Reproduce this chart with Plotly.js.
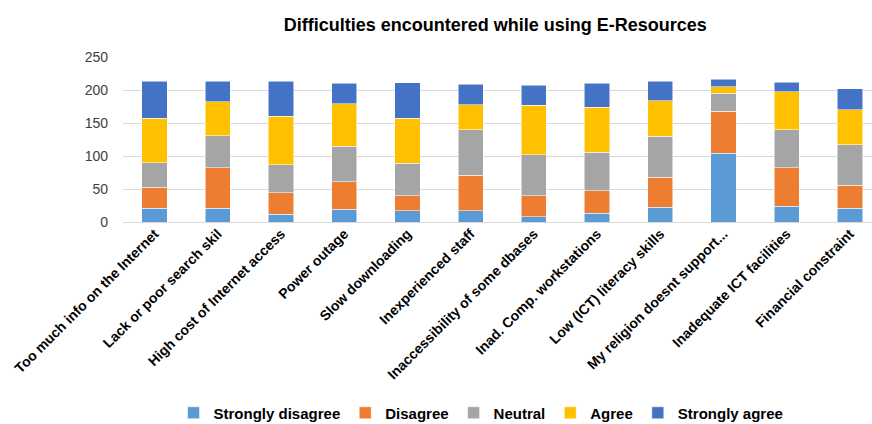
<!DOCTYPE html>
<html><head><meta charset="utf-8">
<script src="https://cdn.plot.ly/plotly-3.0.1.min.js"></script>
<style>html,body{margin:0;padding:0;background:#fff}#chart{width:872px;height:424px}</style>
</head><body><div id="chart"></div>
<script>
const categories = ["Too much info on the Internet","Lack or poor search skil","High cost of Internet access","Power outage","Slow downloading","Inexperienced staff","Inaccessibility of some dbases","Inad. Comp. workstations","Low (ICT) literacy skills","My religion doesnt support...","Inadequate ICT facilities","Financial constraint"];
const stronglyDisagree = [21,21,12,19,17,17,8,13,22,104,24,21];
const disagree         = [32,61,32,42,23,54,32,34,46,64,58,35];
const neutral          = [37,49,43,54,49,69,62,59,62,27,58,61];
const agree            = [67,51,73,64,68,38,75,68,54,10,57,53];
const stronglyAgree    = [56,31,53,31,54,31,30,36,29,11,15,32];
const seriesNames = ["Strongly disagree","Disagree","Neutral","Agree","Strongly agree"];
const seriesColors = ["#5B9BD5","#ED7D31","#A5A5A5","#FFC000","#4472C4"];
const seriesData = [stronglyDisagree, disagree, neutral, agree, stronglyAgree];

const traces = seriesData.map((vals, i) => ({
  type: 'bar', name: seriesNames[i], x: categories, y: vals,
  marker: {color: seriesColors[i], line: {color: 'rgba(255,255,255,0.7)', width: 0.75}},
  hoverinfo: 'x+y+name'
}));

const layout = {
  width: 872, height: 424, barmode: 'stack', bargap: 0.6,
  paper_bgcolor: '#fff', plot_bgcolor: '#fff',
  margin: {l: 123, r: 0, t: 57, b: 202},
  font: {family: 'Liberation Sans, Arial, sans-serif', color: '#000'},
  title: {text: 'Difficulties encountered while using E-Resources', x: 0.568, xref: 'container', xanchor: 'center', y: 1 - 25/424, yref: 'container', yanchor: 'middle',
          font: {size: 18, family: 'Liberation Sans, Arial, sans-serif', weight: 'bold', color: '#000'}},
  xaxis: {range: [-0.5, 11.35], tickangle: -45, showgrid: false, showline: false, ticks: '', automargin: false,
          tickfont: {size: 14, weight: 'bold', color: '#000'}},
  yaxis: {range: [0, 250], dtick: 50, showgrid: true, gridcolor: '#D9D9D9', gridwidth: 1, zeroline: true, zerolinecolor: '#D9D9D9', automargin: false,
          tickfont: {size: 14, color: '#404040'}, ticks: '', ticklabelstandoff: 14},
  legend: {orientation: 'h', x: 0.478, xanchor: 'center', y: 1 - 413/424, yanchor: 'middle', yref: 'container',
           font: {size: 15, weight: 'bold', color: '#000'}, traceorder: 'normal', itemwidth: 20},
  showlegend: true
};
Plotly.newPlot('chart', traces, layout, {displayModeBar: false, staticPlot: true});
</script></body></html>
